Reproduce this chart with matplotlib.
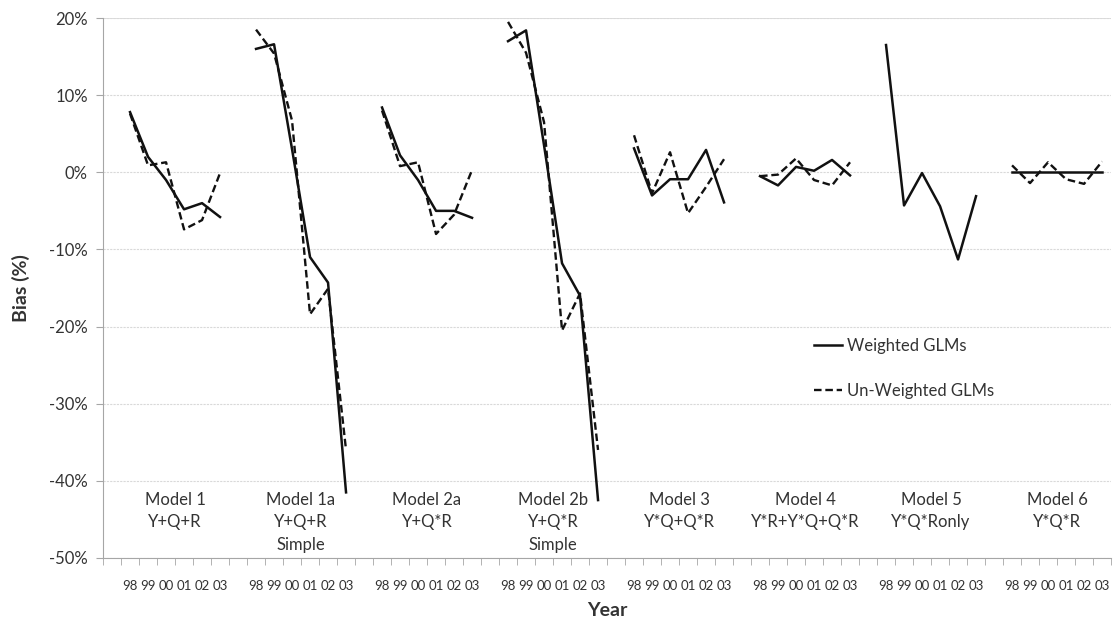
import numpy as np
import matplotlib
matplotlib.use("Agg")
import matplotlib.pyplot as plt

plt.rcParams['font.family'] = ['Lato', 'DejaVu Sans']

years = ["98", "99", "00", "01", "02", "03"]
models = ["Model 1\nY+Q+R", "Model 1a\nY+Q+R\nSimple", "Model 2a\nY+Q*R",
          "Model 2b\nY+Q*R\nSimple", "Model 3\nY*Q+Q*R", "Model 4\nY*R+Y*Q+Q*R",
          "Model 5\nY*Q*Ronly", "Model 6\nY*Q*R"]

# bias (%) per model, years 98..03
weighted = [
    [7.8, 2.0, -1.0, -4.8, -4.0, -5.8],
    [16.0, 16.6, 3.0, -11.0, -14.3, -41.5],
    [8.4, 2.2, -1.0, -5.0, -5.0, -5.9],
    [17.0, 18.4, 3.5, -11.8, -16.0, -42.5],
    [3.1, -3.0, -0.9, -0.9, 2.9, -3.9],
    [-0.5, -1.7, 0.7, 0.2, 1.6, -0.4],
    [16.5, -4.3, -0.1, -4.4, -11.3, -3.1],
    [0.0, 0.0, 0.0, 0.0, 0.0, 0.0],
]
unweighted = [
    [7.6, 0.9, 1.3, -7.4, -6.2, -0.1],
    [18.5, 15.4, 6.7, -18.4, -15.1, -36.0],
    [8.0, 0.8, 1.3, -8.0, -5.5, 0.3],
    [19.5, 15.5, 6.5, -20.5, -15.7, -36.0],
    [4.8, -2.7, 2.6, -5.3, -1.9, 1.7],
    [-0.5, -0.3, 1.8, -1.0, -1.7, 1.3],
    [np.nan] * 6,
    [0.9, -1.4, 1.3, -0.9, -1.5, 1.4],
]

fig = plt.figure(figsize=(11.2, 6.22), dpi=100, facecolor='w')
ax = fig.add_axes([0.092, 0.103, 0.9, 0.868])

n = len(years)
slot = n + 1
txt = '#333333'
for k in range(len(models)):
    xs = np.arange(n) + slot * k + 1
    ax.plot(xs, weighted[k], c='#111111', lw=1.8,
            label='Weighted GLMs' if k == 0 else None)
    ax.plot(xs, unweighted[k], c='#111111', lw=1.7, ls=(0, (3.2, 1.6)),
            label='Un-Weighted GLMs' if k == 0 else None)
    ax.text(slot * k + 3.5, -41.4, models[k], ha='center', va='top',
            fontsize=12, color=txt, linespacing=1.5)

centers = [slot * k + 1 + j for k in range(len(models)) for j in range(n)]
ax.set_xticks(centers)
ax.set_xticklabels(years * len(models), fontsize=9.5, color=txt)
ax.set_xticks(np.arange(len(models) * slot + 1) - 0.5, minor=True)
ax.tick_params(axis='x', which='major', length=0, pad=16)
ax.tick_params(axis='x', which='minor', length=5, color='#a6a6a6')
ax.set_xlim(-0.5, len(models) * slot - 0.5)

ax.set_ylim(-50, 20)
ax.set_yticks(np.arange(-50, 21, 10))
ax.set_yticklabels(['%d%%' % v for v in range(-50, 21, 10)], fontsize=12, color=txt)
ax.tick_params(axis='y', length=5, color='#a6a6a6', pad=6)
ax.grid(axis='y', color='#d9d9d9', ls=(0, (2, 1)), lw=0.8)
ax.set_axisbelow(True)

for s in ['top', 'right']:
    ax.spines[s].set_visible(False)
ax.spines['left'].set_color('#a6a6a6')
ax.spines['bottom'].set_color('#a6a6a6')
ax.axhline(20, color='#d9d9d9', lw=1.2, zorder=0)

ax.set_ylabel('Bias (%)', fontsize=14, fontweight='bold', color=txt, labelpad=14)
ax.set_xlabel('Year', fontsize=14, fontweight='bold', color=txt, labelpad=7)

leg = ax.legend(loc='upper left', bbox_to_anchor=(0.69, 0.435), frameon=False,
                fontsize=12, handlelength=1.7, handletextpad=0.3, labelspacing=1.75)
for t in leg.get_texts():
    t.set_color(txt)

fig.savefig('out.png', dpi=100)
